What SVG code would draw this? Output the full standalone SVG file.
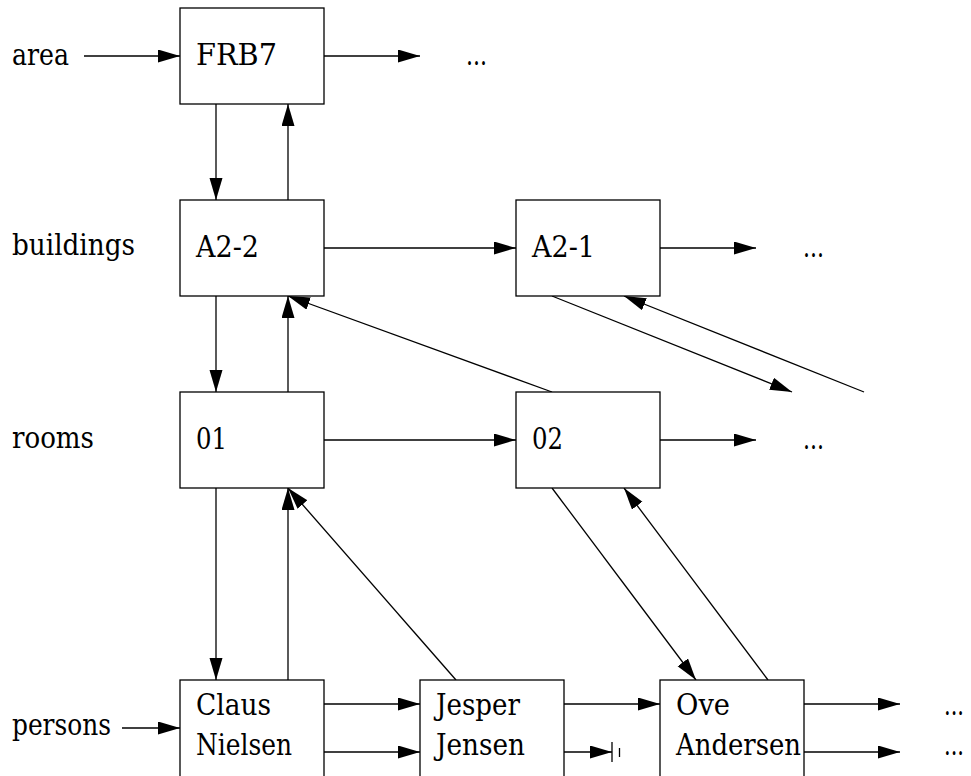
<svg xmlns="http://www.w3.org/2000/svg" width="971" height="776" viewBox="0 0 971 776">
<style>
.box{fill:#fff;stroke:#000;stroke-width:1.3}
text{font-family:'DejaVu Serif','Liberation Serif',serif;font-size:29px;fill:#000}
.c{fill:none;stroke:#000;stroke-width:1.3}
.a{marker-end:url(#ah)}
</style>
<defs>
<marker id="ah" markerUnits="userSpaceOnUse" markerWidth="23" markerHeight="14" refX="22" refY="6.5" orient="auto" viewBox="0 0 23 14">
<path d="M0,0 L22,6.5 L0,13 Z" fill="#000"/>
</marker>
</defs>
<rect width="971" height="776" fill="#fff"/>
<g id="connectors">
<line class="c a" x1="84" y1="56" x2="180" y2="56"/>
<line class="c a" x1="324" y1="56" x2="420" y2="56"/>
<line class="c a" x1="216" y1="104" x2="216" y2="200"/>
<line class="c a" x1="288" y1="200" x2="288" y2="104"/>
<line class="c a" x1="324" y1="248" x2="516" y2="248"/>
<line class="c a" x1="660" y1="248" x2="756" y2="248"/>
<line class="c a" x1="216" y1="296" x2="216" y2="392"/>
<line class="c a" x1="288" y1="392" x2="288" y2="296"/>
<line class="c a" x1="552" y1="392" x2="288" y2="296"/>
<line class="c a" x1="552" y1="296" x2="792" y2="392"/>
<line class="c a" x1="864" y1="392" x2="624" y2="296"/>
<line class="c a" x1="324" y1="440" x2="516" y2="440"/>
<line class="c a" x1="660" y1="440" x2="756" y2="440"/>
<line class="c a" x1="216" y1="488" x2="216" y2="680"/>
<line class="c a" x1="288" y1="680" x2="288" y2="488"/>
<line class="c a" x1="456" y1="680" x2="288" y2="488"/>
<line class="c a" x1="552" y1="488" x2="696" y2="680"/>
<line class="c a" x1="768" y1="680" x2="624" y2="488"/>
<line class="c a" x1="122" y1="728" x2="180" y2="728"/>
<line class="c a" x1="324" y1="704" x2="420" y2="704"/>
<line class="c a" x1="324" y1="752" x2="420" y2="752"/>
<line class="c a" x1="564" y1="704" x2="660" y2="704"/>
<line class="c a" x1="564" y1="752" x2="612" y2="752"/>
<line class="c" x1="612" y1="742" x2="612" y2="762"/>
<line class="c" x1="619.5" y1="748" x2="619.5" y2="757"/>
<line class="c a" x1="804" y1="704" x2="900" y2="704"/>
<line class="c a" x1="804" y1="752" x2="900" y2="752"/>
</g>
<g id="labels">
<text x="12" y="65" textLength="57" lengthAdjust="spacingAndGlyphs">area</text>
<text x="12" y="255" textLength="123" lengthAdjust="spacingAndGlyphs">buildings</text>
<text x="12" y="448" textLength="82" lengthAdjust="spacingAndGlyphs">rooms</text>
<text x="12" y="735" textLength="99" lengthAdjust="spacingAndGlyphs">persons</text>
<text x="466" y="65" textLength="21" lengthAdjust="spacingAndGlyphs">...</text>
<text x="803" y="257" textLength="21" lengthAdjust="spacingAndGlyphs">...</text>
<text x="803" y="449" textLength="21" lengthAdjust="spacingAndGlyphs">...</text>
<text x="944" y="715" textLength="20" lengthAdjust="spacingAndGlyphs">...</text>
<text x="944" y="755" textLength="20" lengthAdjust="spacingAndGlyphs">...</text>
</g>
<g id="FRB7"><rect class="box" x="180" y="8" width="144" height="96"/><text x="196" y="65" textLength="81" lengthAdjust="spacingAndGlyphs">FRB7</text></g>
<g id="A2-2"><rect class="box" x="180" y="200" width="144" height="96"/><text x="196" y="257" textLength="63" lengthAdjust="spacingAndGlyphs">A2-2</text></g>
<g id="A2-1"><rect class="box" x="516" y="200" width="144" height="96"/><text x="532" y="257" textLength="63" lengthAdjust="spacingAndGlyphs">A2-1</text></g>
<g id="r01"><rect class="box" x="180" y="392" width="144" height="96"/><text x="196" y="449" textLength="31" lengthAdjust="spacingAndGlyphs">01</text></g>
<g id="r02"><rect class="box" x="516" y="392" width="144" height="96"/><text x="532" y="449" textLength="31" lengthAdjust="spacingAndGlyphs">02</text></g>
<g id="claus"><rect class="box" x="180" y="680" width="144" height="110"/><text x="196" y="715" textLength="75" lengthAdjust="spacingAndGlyphs">Claus</text><text x="196" y="755" textLength="96" lengthAdjust="spacingAndGlyphs">Nielsen</text></g>
<g id="jesper"><rect class="box" x="420" y="680" width="144" height="110"/><text x="436" y="715" textLength="84" lengthAdjust="spacingAndGlyphs">Jesper</text><text x="436" y="755" textLength="89" lengthAdjust="spacingAndGlyphs">Jensen</text></g>
<g id="ove"><rect class="box" x="660" y="680" width="144" height="110"/><text x="676" y="715" textLength="54" lengthAdjust="spacingAndGlyphs">Ove</text><text x="676" y="755" textLength="125" lengthAdjust="spacingAndGlyphs">Andersen</text></g>
</svg>
